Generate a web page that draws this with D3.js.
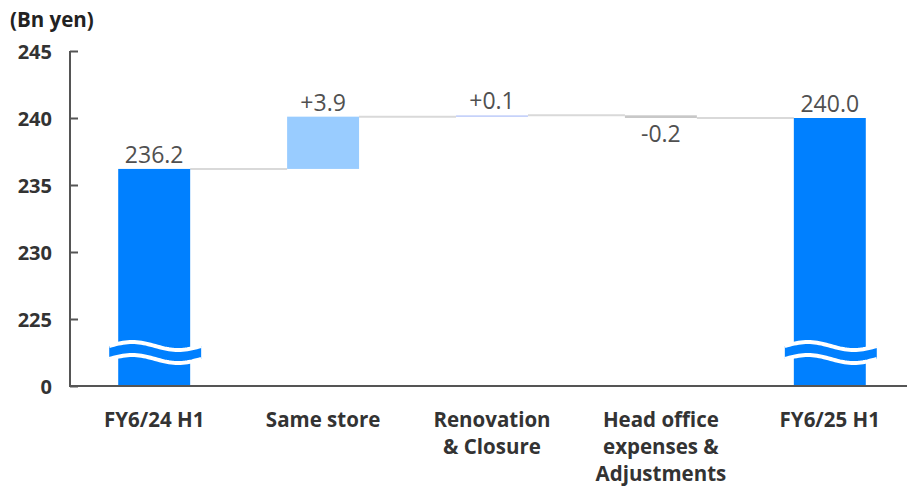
<!DOCTYPE html>
<html>
<head>
<meta charset="utf-8">
<script src="https://cdn.jsdelivr.net/npm/d3@7"></script>
<style>
  html, body { margin: 0; padding: 0; background: #fff; }
  svg { display: block; font-family: "Open Sans", "Noto Sans", sans-serif; }
</style>
</head>
<body>
<svg id="chart" width="907" height="486"></svg>
<script>
// Sales bridge: FY6/24 H1 -> FY6/25 H1 (Bn yen)
const categories = ["FY6/24 H1", "Same store", "Renovation\n& Closure", "Head office\nexpenses &\nAdjustments", "FY6/25 H1"];
const values = [236.2, 3.9, 0.1, -0.2, 240.0];
const kinds = ["total", "delta", "delta", "delta", "total"];
const tickValues = [220, 225, 230, 235, 240, 245];
const tickLabels = ["0", "225", "230", "235", "240", "245"];
const unitLabel = "(Bn yen)";

const colors = { total: "#0080ff", up: "#99ccff", upSmall: "#c2cffa", down: "#c8c8c8" };

const svg = d3.select("#chart");
const W = 907, H = 486;
const axisX = 70, baseY = 386;

const y = d3.scaleLinear().domain([220, 245]).range([baseY, 51]);
const x = d3.scaleBand().domain(categories).range([77, 907])
  .paddingInner(0.574).paddingOuter(0.244);

// running totals for the bridge
let run = 0;
const bars = categories.map((c, i) => {
  const v = values[i];
  let y0, y1;
  if (kinds[i] === "total") { y0 = 220; y1 = v; run = v; }
  else { y0 = run; y1 = run + v; run = run + v; }
  let fill = colors.total;
  if (kinds[i] === "delta") fill = v < 0 ? colors.down : (Math.abs(v) < 0.5 ? colors.upSmall : colors.up);
  return { c, v, kind: kinds[i], y0, y1, end: run, fill };
});

// connectors between consecutive bars
const conn = svg.append("g");
bars.slice(0, -1).forEach((b, i) => {
  const nx = bars[i + 1];
  conn.append("line")
    .attr("x1", x(b.c) + x.bandwidth()).attr("x2", x(nx.c))
    .attr("y1", y(b.end)).attr("y2", y(b.end))
    .attr("stroke", "#d9d9d9").attr("stroke-width", 2);
});

// bars
svg.append("g").selectAll("rect").data(bars).join("rect")
  .attr("x", d => x(d.c))
  .attr("width", x.bandwidth())
  .attr("y", d => y(Math.max(d.y0, d.y1)))
  .attr("height", d => Math.max(1.6, Math.abs(y(d.y0) - y(d.y1))))
  .attr("fill", d => d.fill);

// axis break marks on the total bars
const breakY = (y(225) + y(220)) / 2;
bars.filter(d => d.kind === "total").forEach(d => {
  const x0 = x(d.c) - 9, x1 = x(d.c) + x.bandwidth() + 11;
  const amp = 4, gap = 13, n = 40;
  const top = [], bot = [];
  for (let k = 0; k <= n; k++) {
    const px = x0 + (x1 - x0) * k / n;
    const py = breakY - gap / 2 - amp * Math.sin(2 * Math.PI * k / n);
    top.push([px, py]);
    bot.push([px, py + gap]);
  }
  const line = d3.line();
  const band = top.concat(bot.slice().reverse());
  svg.append("path").attr("d", line(band) + "Z").attr("fill", d.fill);
  svg.append("path").attr("d", line(top)).attr("fill", "none").attr("stroke", "#fff").attr("stroke-width", 4);
  svg.append("path").attr("d", line(bot)).attr("fill", "none").attr("stroke", "#fff").attr("stroke-width", 4);
});

// value labels
const fmt = d => d.kind === "total" ? d.v.toFixed(1) : (d.v >= 0 ? "+" : "-") + Math.abs(d.v).toFixed(1);
svg.append("g").selectAll("text").data(bars).join("text")
  .attr("x", d => x(d.c) + x.bandwidth() / 2)
  .attr("y", d => d.v < 0 ? y(Math.min(d.y0, d.y1)) + 24 : y(Math.max(d.y0, d.y1)) - 6)
  .attr("text-anchor", "middle")
  .attr("font-size", 23).attr("font-weight", 400).attr("fill", "#505050")
  .text(fmt);

// y axis
const ax = svg.append("g").attr("transform", `translate(${axisX},0)`)
  .call(d3.axisRight(y).tickValues(tickValues).tickSize(8).tickFormat((d, i) => tickLabels[i]));
ax.select(".domain").remove();
ax.selectAll(".tick line").attr("stroke", "#555").attr("stroke-width", 2);
ax.selectAll(".tick text")
  .attr("x", -18).attr("text-anchor", "end").attr("dy", "0.35em")
  .attr("font-size", 20).attr("font-weight", 700).attr("fill", "#333")
  .attr("font-family", "'Open Sans', sans-serif");
svg.append("line").attr("x1", axisX).attr("x2", axisX).attr("y1", y(245)).attr("y2", baseY + 1)
  .attr("stroke", "#555").attr("stroke-width", 2);
svg.append("line").attr("x1", axisX).attr("x2", W).attr("y1", baseY).attr("y2", baseY)
  .attr("stroke", "#555").attr("stroke-width", 2);

// unit label
svg.append("text").attr("x", 10).attr("y", 27)
  .attr("font-size", 20.5).attr("font-weight", 700).attr("fill", "#222").text(unitLabel);

// category labels
const cat = svg.append("g").selectAll("text").data(categories).join("text")
  .attr("text-anchor", "middle")
  .attr("font-size", 20.5).attr("font-weight", 700).attr("fill", "#333");
cat.each(function(c) {
  const t = d3.select(this);
  c.split("\n").forEach((ln, i) => {
    t.append("tspan").attr("x", x(c) + x.bandwidth() / 2).attr("y", 427 + i * 27).text(ln);
  });
});
</script>
</body>
</html>
